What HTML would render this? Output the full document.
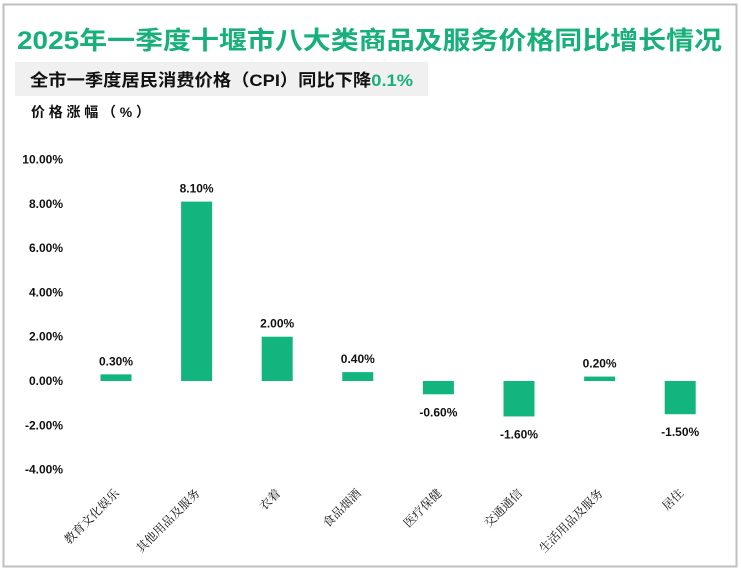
<!DOCTYPE html>
<html><head><meta charset="utf-8"><style>
body{margin:0;background:#fff;}
svg text{font-family:"Liberation Sans","Noto Sans CJK SC",sans-serif;}
</style></head><body>
<svg id="chart" width="741" height="571" xmlns="http://www.w3.org/2000/svg">
<rect x="3.5" y="4.5" width="733" height="562" fill="#fff" stroke="#bfbfbf" stroke-width="2"/>
<text x="17" y="49" font-size="25" font-weight="bold" fill="#17b07a" textLength="705" lengthAdjust="spacingAndGlyphs">2025年一季度十堰市八大类商品及服务价格同比增长情况</text>
<rect x="15" y="62" width="413" height="34" fill="#f0f0f0"/>
<text x="30" y="86" font-size="17" font-weight="bold" fill="#111" textLength="383" lengthAdjust="spacingAndGlyphs">全市一季度居民消费价格（CPI）同比下降<tspan fill="#17b07a">0.1%</tspan></text>
<text x="31" y="117" font-size="14" font-weight="bold" fill="#111" textLength="119" lengthAdjust="spacing">价格涨幅（%）</text>
<g id="axis"></g><g id="bars"></g>
</svg>
<script>
const categories=["教育文化娱乐","其他用品及服务","衣着","食品烟酒","医疗保健","交通通信","生活用品及服务","居住"];
const values=[0.30,8.10,2.00,0.40,-0.60,-1.60,0.20,-1.50];
const ticks=[10,8,6,4,2,0,-2,-4];
const NS="http://www.w3.org/2000/svg";
const y0=381, pxPer=22.15;
function yScale(v){return y0-v*pxPer;}
function xScale(i){return 116+i*80.6;}
const ax=document.getElementById('axis'), bg=document.getElementById('bars');
function mk(tag,attrs,parent){const e=document.createElementNS(NS,tag);for(const k in attrs)e.setAttribute(k,attrs[k]);parent.appendChild(e);return e;}
ticks.forEach(t=>{
  const tx=mk('text',{x:63,y:yScale(t)+4,'font-size':12,'font-weight':'bold','text-anchor':'end',fill:'#111'},ax);
  
  
  tx.textContent=t.toFixed(2)+'%';
});
categories.forEach((c,i)=>{
  const v=values[i], x=xScale(i);
  const r=mk('rect',{x:x-15.5,y:Math.min(yScale(v),y0),width:31,height:Math.abs(yScale(v)-y0),fill:'#13b57f'},bg);
  
  
  const ly=v>=0?yScale(v)-9:yScale(v)+22;
  const l=mk('text',{x:x,y:ly,'font-size':12,'font-weight':'bold','text-anchor':'middle',fill:'#111'},bg);
  
  
  l.textContent=v.toFixed(2)+'%';
  const cl=mk('text',{x:0,y:0,'font-size':12,'text-anchor':'end',fill:'#111',transform:`translate(${x+4},${494}) rotate(-45)`},bg);
  
  
  cl.style.fontFamily='"Liberation Serif","Noto Serif CJK SC",serif';
  cl.textContent=c;
});
</script>
</body></html>
